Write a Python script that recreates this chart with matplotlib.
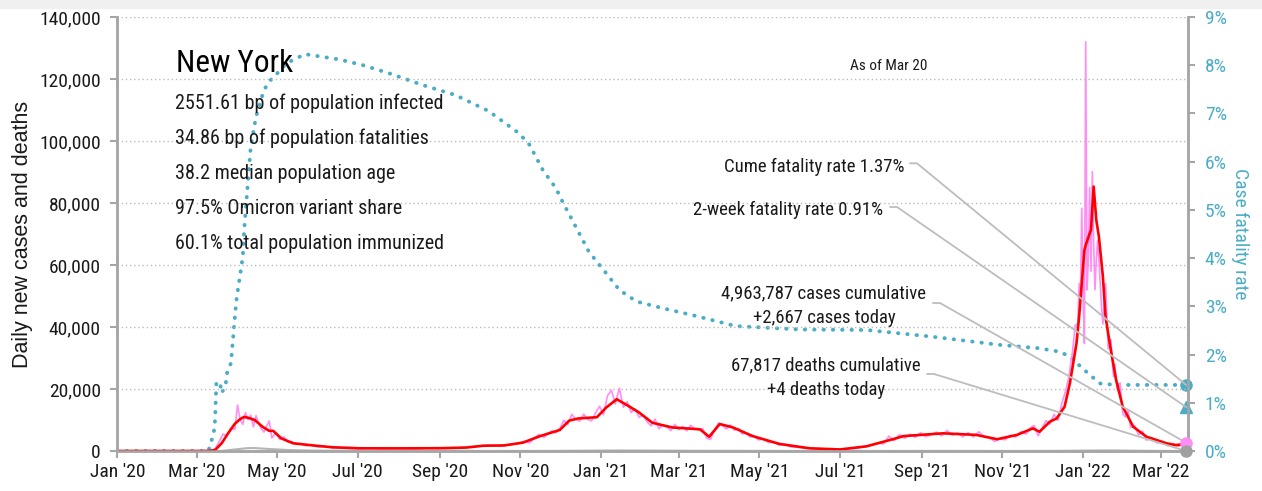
import numpy as np
import pandas as pd
import matplotlib
matplotlib.use('Agg')
import matplotlib.pyplot as plt
import matplotlib.dates as mdates
from matplotlib import font_manager
from matplotlib.patches import Rectangle

# pick a narrow font if one is there
names = {f.name for f in font_manager.fontManager.ttflist}
FONT = 'DejaVu Sans'
for cand in ['Roboto Condensed', 'Liberation Sans Narrow', 'DejaVu Sans Condensed', 'Liberation Sans']:
    if cand in names:
        FONT = cand
        break
plt.rcParams['font.family'] = [FONT, 'DejaVu Sans']

# 7-day average of new cases
avg_dates = ['2020-01-01', '2020-03-01', '2020-03-10', '2020-03-15', '2020-03-20', '2020-03-25',
             '2020-03-30', '2020-04-03', '2020-04-06', '2020-04-10', '2020-04-14', '2020-04-20',
             '2020-04-25', '2020-04-28', '2020-05-04', '2020-05-13', '2020-05-28', '2020-06-12',
             '2020-07-03', '2020-08-01', '2020-09-01', '2020-09-21', '2020-10-04', '2020-10-20',
             '2020-11-03', '2020-11-16', '2020-12-01', '2020-12-08', '2020-12-15', '2020-12-29',
             '2021-01-05', '2021-01-13', '2021-01-22', '2021-01-30', '2021-02-09', '2021-02-24',
             '2021-03-17', '2021-03-24', '2021-04-01', '2021-04-11', '2021-04-26', '2021-05-16',
             '2021-06-08', '2021-07-01', '2021-07-21', '2021-08-10', '2021-08-18', '2021-09-17',
             '2021-10-12', '2021-10-28', '2021-11-12', '2021-11-24', '2021-11-29', '2021-12-07',
             '2021-12-12', '2021-12-18', '2021-12-22', '2021-12-27', '2021-12-29', '2022-01-02',
             '2022-01-03', '2022-01-06', '2022-01-07', '2022-01-09', '2022-01-11', '2022-01-13',
             '2022-01-16', '2022-01-18', '2022-01-22', '2022-01-26', '2022-01-31', '2022-02-08',
             '2022-02-18', '2022-03-05', '2022-03-12', '2022-03-20']
avg_cases = [0, 0, 30, 300, 2500, 5800,
             8800, 10300, 11000, 10600, 10000, 7800,
             6500, 6500, 4100, 2500, 1800, 1200,
             870, 850, 900, 1100, 1700, 1800,
             2700, 4800, 6800, 9800, 10500, 10900,
             14000, 16700, 14500, 12400, 9100, 7600,
             7000, 4600, 8700, 7600, 4800, 2300,
             870, 500, 1500, 3800, 4800, 5700,
             5200, 3800, 5200, 7300, 6200, 9500,
             10500, 14300, 21800, 34700, 43300, 64800,
             66400, 70200, 71300, 85300, 74500, 69100,
             56200, 43300, 32600, 22900, 14300, 7800,
             4600, 2500, 1900, 2300]

# daily new cases
daily_dates = ['2020-01-01', '2020-03-01', '2020-03-08', '2020-03-12', '2020-03-15', '2020-03-18',
               '2020-03-21', '2020-03-24', '2020-03-27', '2020-03-30', '2020-04-01', '2020-04-03',
               '2020-04-05', '2020-04-07', '2020-04-09', '2020-04-11', '2020-04-13', '2020-04-15',
               '2020-04-17', '2020-04-19', '2020-04-21', '2020-04-23', '2020-04-25', '2020-04-27',
               '2020-04-30', '2020-05-03', '2020-05-06', '2020-05-09', '2020-05-12', '2020-05-15',
               '2020-05-19', '2020-05-23', '2020-05-27', '2020-06-01', '2020-06-06', '2020-06-12',
               '2020-06-20', '2020-07-01', '2020-07-10', '2020-07-20', '2020-08-01', '2020-08-12',
               '2020-08-25', '2020-09-05', '2020-09-15', '2020-09-25', '2020-10-02', '2020-10-09',
               '2020-10-16', '2020-10-23', '2020-10-30', '2020-11-04', '2020-11-08', '2020-11-12',
               '2020-11-15', '2020-11-19', '2020-11-22', '2020-11-25', '2020-11-28', '2020-12-01',
               '2020-12-04', '2020-12-07', '2020-12-10', '2020-12-13', '2020-12-16', '2020-12-19',
               '2020-12-22', '2020-12-25', '2020-12-28', '2020-12-31', '2021-01-03', '2021-01-06',
               '2021-01-09', '2021-01-12', '2021-01-15', '2021-01-18', '2021-01-21', '2021-01-24',
               '2021-01-27', '2021-01-30', '2021-02-02', '2021-02-05', '2021-02-08', '2021-02-11',
               '2021-02-14', '2021-02-17', '2021-02-20', '2021-02-23', '2021-02-26', '2021-03-01',
               '2021-03-04', '2021-03-07', '2021-03-10', '2021-03-13', '2021-03-16', '2021-03-19',
               '2021-03-22', '2021-03-25', '2021-03-28', '2021-03-31', '2021-04-03', '2021-04-06',
               '2021-04-09', '2021-04-12', '2021-04-15', '2021-04-18', '2021-04-21', '2021-04-24',
               '2021-04-27', '2021-04-30', '2021-05-04', '2021-05-08', '2021-05-12', '2021-05-16',
               '2021-05-20', '2021-05-25', '2021-05-30', '2021-06-05', '2021-06-12', '2021-06-20',
               '2021-06-28', '2021-07-06', '2021-07-14', '2021-07-20', '2021-07-25', '2021-07-30',
               '2021-08-03', '2021-08-07', '2021-08-11', '2021-08-15', '2021-08-19', '2021-08-23',
               '2021-08-27', '2021-08-31', '2021-09-04', '2021-09-08', '2021-09-12', '2021-09-16',
               '2021-09-20', '2021-09-24', '2021-09-28', '2021-10-02', '2021-10-06', '2021-10-10',
               '2021-10-14', '2021-10-18', '2021-10-22', '2021-10-26', '2021-10-30', '2021-11-03',
               '2021-11-07', '2021-11-11', '2021-11-15', '2021-11-19', '2021-11-22', '2021-11-25',
               '2021-11-28', '2021-12-01', '2021-12-04', '2021-12-07', '2021-12-10', '2021-12-13',
               '2021-12-16', '2021-12-19', '2021-12-21', '2021-12-24', '2021-12-26', '2021-12-28',
               '2021-12-29', '2021-12-30', '2021-12-31', '2022-01-01', '2022-01-02', '2022-01-03',
               '2022-01-04', '2022-01-05', '2022-01-06', '2022-01-07', '2022-01-08', '2022-01-09',
               '2022-01-10', '2022-01-11', '2022-01-12', '2022-01-13', '2022-01-15', '2022-01-16',
               '2022-01-18', '2022-01-20', '2022-01-22', '2022-01-24', '2022-01-25', '2022-01-27',
               '2022-01-29', '2022-01-31', '2022-02-02', '2022-02-04', '2022-02-06', '2022-02-09',
               '2022-02-12', '2022-02-15', '2022-02-18', '2022-02-22', '2022-02-26', '2022-03-02',
               '2022-03-06', '2022-03-10', '2022-03-14', '2022-03-17', '2022-03-20']
daily_cases = [0, 0, 10, 150, 700, 2900,
               5500, 4800, 7400, 6900, 14800, 10200,
               8600, 12400, 10100, 11600, 7800, 11400,
               8800, 7200, 6100, 8000, 9700, 4200,
               5900, 3700, 4600, 2900, 3100, 2200,
               2400, 1700, 2100, 1300, 1500, 1000,
               900, 700, 950, 750, 900, 700,
               950, 800, 1000, 1400, 1600, 1900,
               1500, 2000, 2400, 3100, 2600, 4300,
               5300, 4400, 5600, 6500, 5800, 7300,
               9900, 8500, 11800, 10300, 9600, 11900,
               10200, 9700, 12300, 14400, 11700, 17800,
               19600, 15200, 20300, 14100, 15900, 12400,
               13600, 10900, 11600, 9400, 8100, 10300,
               7200, 8400, 7700, 6600, 8600, 6900,
               7900, 6500, 8300, 7100, 6800, 7300,
               4200, 3700, 6800, 9000, 8200, 7100,
               8400, 6700, 7300, 5500, 5800, 4500,
               4900, 3600, 3900, 2700, 2900, 1900,
               2100, 1300, 1200, 900, 800, 600,
               450, 600, 900, 1400, 1900, 2600,
               2300, 4800, 3300, 5300, 4100, 5400,
               4400, 5900, 4600, 5300, 6100, 4900,
               6600, 5100, 5800, 4600, 5900, 4500,
               6200, 4700, 4300, 3100, 4000, 3600,
               5100, 4500, 6200, 5500, 7500, 8200,
               4900, 7400, 9800, 8700, 11800, 9900,
               15500, 19700, 23400, 32000, 40500, 41000,
               54000, 49000, 78300, 50000, 34700, 132000,
               52000, 62000, 85000, 58000, 90100, 67000,
               52000, 61600, 68000, 61600, 46000, 41000,
               54000, 33000, 36000, 24000, 28000, 19500,
               22000, 12000, 11000, 13000, 7500, 8200,
               5200, 6400, 3500, 4300, 2600, 3100,
               1700, 2400, 1500, 2100, 2667]

# daily deaths
death_dates = ['2020-01-01', '2020-03-10', '2020-03-20', '2020-03-30', '2020-04-08', '2020-04-14',
               '2020-04-25', '2020-05-10', '2020-05-25', '2020-06-15', '2020-08-01', '2020-10-01',
               '2020-11-15', '2020-12-15', '2021-01-15', '2021-02-15', '2021-03-15', '2021-04-15',
               '2021-05-15', '2021-06-15', '2021-07-15', '2021-08-15', '2021-09-15', '2021-10-15',
               '2021-11-15', '2021-12-15', '2022-01-10', '2022-01-25', '2022-02-10', '2022-03-01',
               '2022-03-20']
deaths = [0, 0, 30, 500, 900, 950,
          650, 300, 150, 60, 20, 15,
          30, 90, 170, 120, 70, 60,
          30, 10, 8, 25, 35, 30,
          25, 60, 160, 180, 90, 30,
          4]

# cumulative case fatality rate, %
cfr_dates = ['2020-01-01', '2020-03-10', '2020-03-12', '2020-03-14', '2020-03-15', '2020-03-16',
             '2020-03-19', '2020-03-20', '2020-03-23', '2020-03-24', '2020-03-27', '2020-03-31',
             '2020-04-05', '2020-04-06', '2020-04-09', '2020-04-11', '2020-04-15', '2020-04-21',
             '2020-04-26', '2020-05-01', '2020-05-08', '2020-05-22', '2020-06-17', '2020-07-05',
             '2020-07-25', '2020-08-19', '2020-09-13', '2020-10-08', '2020-10-31', '2020-11-08',
             '2020-11-18', '2020-11-28', '2020-12-03', '2020-12-13', '2020-12-23', '2021-01-02',
             '2021-01-15', '2021-01-28', '2021-02-17', '2021-03-14', '2021-04-13', '2021-06-01',
             '2021-07-21', '2021-09-09', '2021-10-30', '2021-11-29', '2021-12-14', '2021-12-22',
             '2021-12-29', '2022-01-06', '2022-01-14', '2022-01-26', '2022-03-20']
cfr = [0, 0, 0.19, 0.37, 0.64, 1.44,
       1.37, 1.20, 1.37, 1.61, 1.82, 3.10,
       4.03, 4.58, 5.62, 6.31, 6.93, 7.49,
       7.69, 7.83, 8.04, 8.23, 8.12, 8.00,
       7.83, 7.59, 7.38, 7.05, 6.59, 6.35,
       5.83, 5.45, 5.17, 4.65, 4.13, 3.79,
       3.34, 3.10, 2.96, 2.80, 2.59, 2.52,
       2.51, 2.37, 2.20, 2.13, 2.06, 1.96,
       1.78, 1.58, 1.40, 1.37, 1.37]

last_day = '2022-03-20'
cume_cfr = 1.37
week2_cfr = 0.91
today_cases = 2667
today_deaths = 4

title = 'New York'
info_lines = ['2551.61 bp of population infected',
              '34.86 bp of population fatalities',
              '38.2 median population age',
              '97.5% Omicron variant share',
              '60.1% total population immunized']

TEAL = '#4bacc6'
PINK = '#ff8ef4'
RED = '#ff0000'
GREY = '#a6a6a6'
LINEG = '#bdbdbd'
INK = '#1a1a1a'

fig = plt.figure(figsize=(12.62, 4.91), dpi=100)
fig.patches.append(Rectangle((0, 1 - 8 / 491), 1, 8 / 491, transform=fig.transFigure,
                             color='#f0f0f0', zorder=0))
ax = fig.add_axes([117.3 / 1262, 40 / 491, 1070.7 / 1262, 434 / 491])
ax2 = ax.twinx()
ax.set_zorder(ax2.get_zorder() + 1)
ax.patch.set_visible(False)

# CFR on right axis
ax2.plot(pd.to_datetime(cfr_dates), cfr, color=TEAL, lw=2.8,
         linestyle=(0, (0.1, 2.3)), dash_capstyle='round')
end = pd.Timestamp(last_day)
end_num = mdates.date2num(end)
ax2.plot([end], [cume_cfr], 'o', color=TEAL, ms=8, clip_on=False, zorder=5)
ax2.plot([end], [week2_cfr], '^', color=TEAL, ms=8, clip_on=False, zorder=5)

# cases and deaths on left axis
ax.plot(pd.to_datetime(death_dates), deaths, color='#b5b5b5', lw=1.5)
ax.plot(pd.to_datetime(daily_dates), daily_cases, color=PINK, lw=1.2)
ax.plot(pd.to_datetime(avg_dates), avg_cases, color=RED, lw=1.9)
ax.plot([end], [today_cases], 'o', color=PINK, ms=8, clip_on=False, zorder=5)
ax.plot([end], [today_deaths], 'o', color='#a0a0a0', ms=8, clip_on=False, zorder=5)

ax.set_xlim(pd.Timestamp('2020-01-01'), pd.Timestamp('2022-03-21 10:00'))
ax.set_ylim(0, 140000)
ax2.set_ylim(0, 9)

xt = pd.date_range('2020-01-01', '2022-03-01', freq='2MS')
ax.set_xticks(xt)
ax.set_xticklabels([d.strftime("%b '%y") for d in xt])
ax.set_yticks(np.arange(0, 140001, 20000))
ax.set_yticklabels(['{:,}'.format(v) for v in range(0, 140001, 20000)])
ax2.set_yticks(range(10))
ax2.set_yticklabels(['{}%'.format(i) for i in range(10)])

ax.grid(axis='y', color='#bbbbbb', lw=1, linestyle=(0, (1, 2)))
for a in (ax, ax2):
    a.spines['top'].set_visible(False)
    for s in ('left', 'right', 'bottom'):
        a.spines[s].set_color(GREY)
        a.spines[s].set_linewidth(1.8)
ax.tick_params(axis='both', colors=GREY, width=1.5, length=5, labelsize=14, labelcolor=INK)
ax.tick_params(axis='y', pad=7)
ax2.tick_params(axis='y', colors=GREY, width=1.5, length=5, labelsize=14, labelcolor=TEAL, pad=7)
ax.set_ylabel('Daily new cases and deaths', fontsize=15.5, color=INK, labelpad=4,
              family=['Liberation Sans', 'DejaVu Sans'])
ax2.set_ylabel('Case fatality rate', fontsize=14, color=TEAL, rotation=270, labelpad=16)


def fx(px):
    return (px - 117.3) / 1070.7


def fy(py):
    return (451 - py) / 434


ax.text(fx(176), fy(72), title, fontsize=22.5, color='black', va='baseline',
        transform=ax.transAxes)
for i, line in enumerate(info_lines):
    ax.text(fx(175), fy(109.3 + 35 * i), line, fontsize=14.5, color=INK, va='baseline',
            transform=ax.transAxes)
ax.text(fx(889), fy(70), 'As of Mar 20', fontsize=11, color=INK, ha='center',
        va='baseline', transform=ax.transAxes)

ax.text(fx(904), fy(171.7), 'Cume fatality rate 1.37%', fontsize=13.5, ha='right',
        va='baseline', transform=ax.transAxes, color=INK)
ax.text(fx(883), fy(215), '2-week fatality rate 0.91%', fontsize=13.5, ha='right',
        va='baseline', transform=ax.transAxes, color=INK)
ax.text(fx(824), fy(298.3), '4,963,787 cases cumulative', fontsize=13.5, ha='center',
        va='baseline', transform=ax.transAxes, color=INK)
ax.text(fx(824), fy(323.3), '+2,667 cases today', fontsize=13.5, ha='center',
        va='baseline', transform=ax.transAxes, color=INK)
ax.text(fx(826), fy(370), '67,817 deaths cumulative', fontsize=13.5, ha='center',
        va='baseline', transform=ax.transAxes, color=INK)
ax.text(fx(826), fy(395), '+4 deaths today', fontsize=13.5, ha='center',
        va='baseline', transform=ax.transAxes, color=INK)

leaders = [((910, 163.3), (end_num, cume_cfr), ax2.transData),
           ((890, 207), (end_num, week2_cfr), ax2.transData),
           ((933, 303), (end_num, today_cases), ax.transData),
           ((927, 374), (end_num, today_deaths), ax.transData)]
for (px, py), xy, tr in leaders:
    ax.annotate('', xy=xy, xycoords=tr, xytext=(fx(px), fy(py)), textcoords='axes fraction',
                arrowprops=dict(arrowstyle='-', color=LINEG, lw=1.3, shrinkA=0, shrinkB=0,
                                connectionstyle='arc,angleA=0,angleB=0,armA=7,armB=0,rad=0'),
                annotation_clip=False)

fig.savefig('out.png', dpi=100)
